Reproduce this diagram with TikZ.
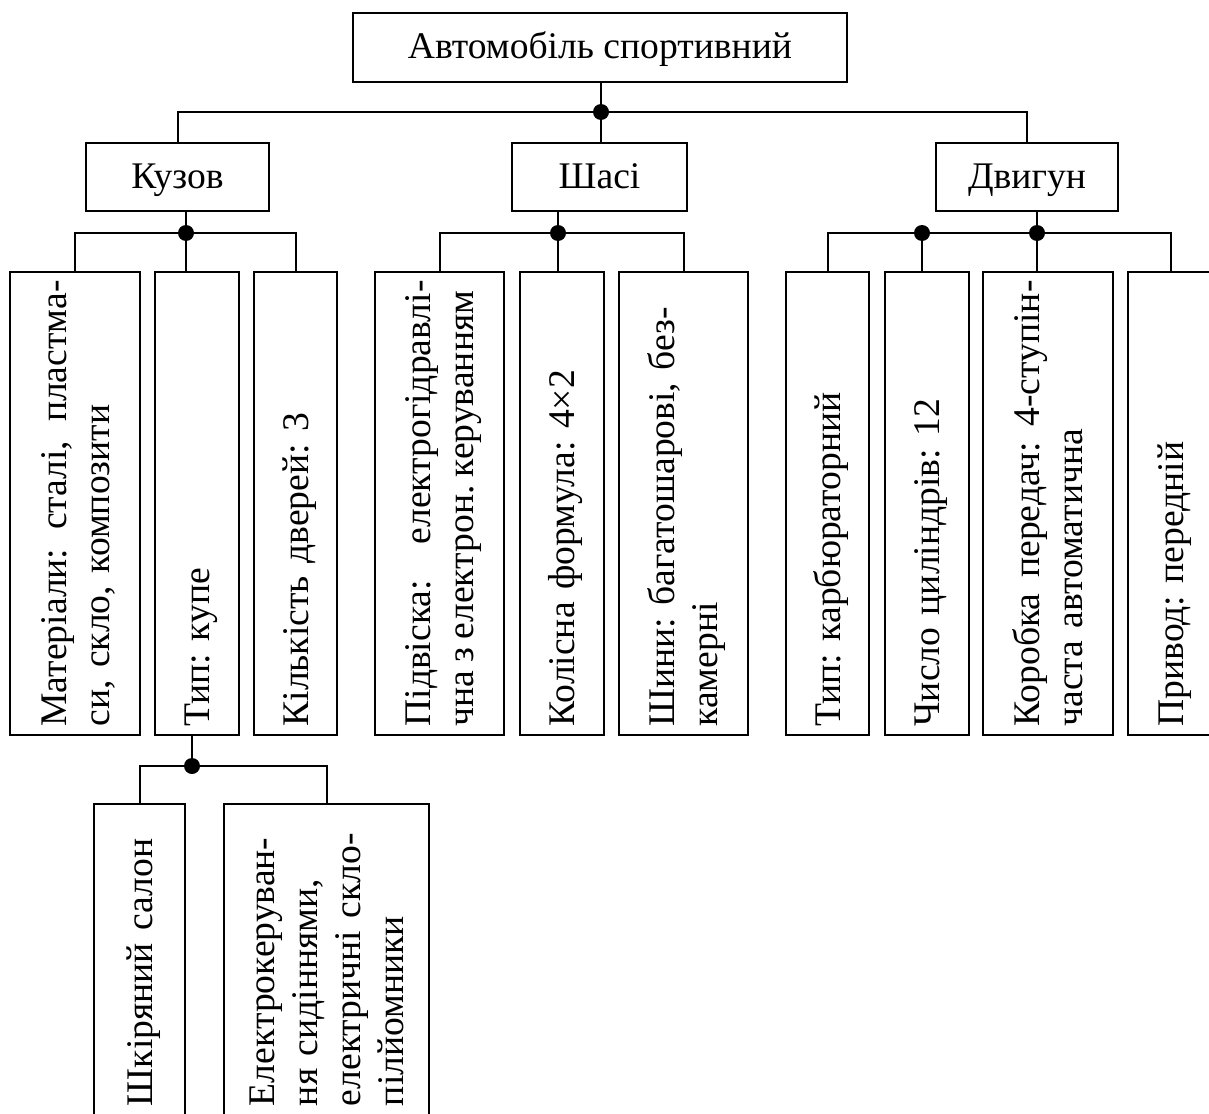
\documentclass[tikz,border=0pt]{standalone}
\usepackage{fontspec}
\setmainfont{Liberation Serif}
\newcommand{\myhs}{\rule{0pt}{17.2pt}}
\newcommand{\myds}{\rule[-4.3pt]{0pt}{0pt}}
\begin{document}
\frenchspacing
\begin{tikzpicture}[x=0.5pt,y=-0.5pt,
  box/.style={draw, line width=1pt, inner sep=0pt, font=\fontsize{18.8}{21.5}\selectfont\frenchspacing},
  hbox/.style={box, minimum height=34pt, text height=13pt, text depth=2pt},
  vbox/.style={box, rotate=90, align=left, text width=223pt, minimum width=231.5pt},
  bvbox/.style={box, rotate=90, align=left, text width=146pt, minimum width=156pt},
  dot/.style={circle, fill=black, inner sep=0pt, minimum size=8pt},
  conn/.style={line width=1pt}]
\useasboundingbox (0,0) rectangle (1209,1113);

% top and level 1
\node[hbox, minimum width=247pt, minimum height=34.5pt] (top) at (600,47.5) {Автомобіль спортивний};
\node[hbox, minimum width=91.5pt] (kuzov) at (177.5,177) {Кузов};
\node[hbox, minimum width=87.5pt] (shasi) at (599.5,177) {Шасі};
\node[hbox, minimum width=91pt] (dvyh) at (1027,177) {Двигун};

% level 2
\node[vbox, minimum height=65pt] (mat) at (75,503.5) {\myhs Матеріали:\hfill сталі,\hfill пластма-\\си, скло, композити\myds};
\node[vbox, minimum height=42pt] (tip) at (197,503.5) {\myhs Тип: купе\myds};
\node[vbox, minimum height=41.5pt] (kil) at (295.5,503.5) {\myhs Кількість дверей: 3\myds};
\node[vbox, minimum height=64.5pt] (pid) at (439.5,503.5) {\myhs Підвіска:\hfill електрогідравлі-\\\mbox{\spaceskip=0.22em чна з електрон. керуванням}\myds};
\node[vbox, minimum height=42pt] (kol) at (562,503.5) {\myhs Колісна формула: 4×2\myds};
\node[vbox, minimum height=64.5pt] (shyn) at (683.5,503.5) {\myhs Шини: багатошарові, без-\\камерні\myds};
\node[vbox, minimum height=41.5pt] (tkarb) at (827.5,503.5) {\myhs Тип: карбюраторний\myds};
\node[vbox, minimum height=42pt] (chys) at (927,503.5) {\myhs Число циліндрів: 12\myds};
\node[vbox, minimum height=65pt] (korob) at (1048,503.5) {\myhs Коробка\hfill передач:\hfill 4-ступін-\\часта автоматична\myds};
\node[vbox, minimum height=43pt] (pryv) at (1171,503.5) {\myhs Привод: передній\myds};

% level 3
\node[bvbox, minimum height=45.5pt] (shk) at (139.5,960) {\myhs Шкіряний салон\myds};
\node[bvbox, minimum height=102.5pt] (elek) at (326.5,960) {\myhs Електрокеруван-\\ня сидіннями,\\електричні скло-\\пілйомники\myds};

% junction dots
\node[dot] (d0) at (601,112) {};
\node[dot] (d1) at (186,233) {};
\node[dot] (d2) at (558,233) {};
\node[dot] (d3) at (922,233) {};
\node[dot] (d4) at (1037,233) {};
\node[dot] (d5) at (192,766) {};

% connectors
\draw[conn] (top.south -| d0) -- (d0.center) -- (shasi.north -| d0);
\draw[conn] (kuzov.north) |- (d0.center) -| (dvyh.north);

\draw[conn] (kuzov.south -| d1) -- (d1.center) -- (tip.east -| d1);
\draw[conn] (mat.east) |- (d1.center) -| (kil.east);

\draw[conn] (shasi.south -| d2) -- (d2.center) -- (kol.east -| d2);
\draw[conn] (pid.east) |- (d2.center) -| (shyn.east);

\draw[conn] (dvyh.south -| d4) -- (d4.center) -- (korob.east -| d4);
\draw[conn] (tkarb.east) |- (d3.center) -- (d4.center) -| (pryv.east);
\draw[conn] (d3.center) -- (chys.east -| d3);

\draw[conn] (tip.west -| d5) -- (d5.center);
\draw[conn] (shk.east) |- (d5.center) -| (elek.east);
\end{tikzpicture}
\end{document}
